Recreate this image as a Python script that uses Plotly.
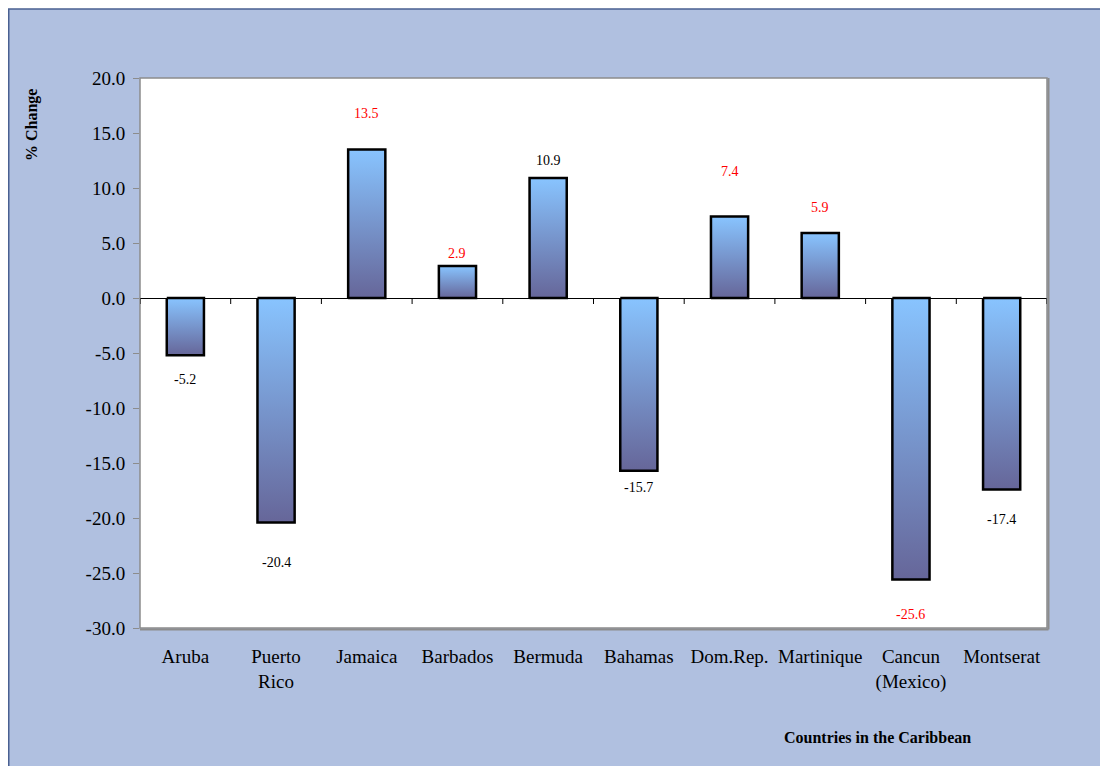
import plotly.graph_objects as go

# ---- data ----
countries = ["Aruba", "Puerto<br>Rico", "Jamaica", "Barbados", "Bermuda",
             "Bahamas", "Dom.Rep.", "Martinique", "Cancun<br>(Mexico)", "Montserat"]
pct_change = [-5.2, -20.4, 13.5, 2.9, 10.9, -15.7, 7.4, 5.9, -25.6, -17.4]
y_tick_values = [20, 15, 10, 5, 0, -5, -10, -15, -20, -25, -30]
y_tick_labels = ["20.0", "15.0", "10.0", "5.0", "0.0", "-5.0", "-10.0",
                 "-15.0", "-20.0", "-25.0", "-30.0"]

# ---- style ----
label_colors = ["black", "black", "red", "red", "black",
                "black", "red", "red", "red", "black"]
label_shift_px = [24, 40, 36, 13, 18, 17, 45, 26, 35, 30]

BG = "#B0C0E0"
LIGHT = "#88C4FF"
DARK = "#666699"
SERIF = "Liberation Serif, Times New Roman, serif"
HALF_W = 0.205

# page has 8px body margin; figure coords = page coords - 8
OFF = 8
W, H = 1100, 758
L, T = 132, 70
PW, PH = 907, 550
R, B = W - L - PW, H - T - PH


def px_x(p):
    return (p - OFF - L) / PW


def px_y(p):
    return (T + PH - (p - OFF)) / PH


fig = go.Figure()

idx = list(range(len(countries)))
for i, v in zip(idx, pct_change):
    fig.add_trace(go.Scatter(
        x=[i - HALF_W, i + HALF_W, i + HALF_W, i - HALF_W, i - HALF_W],
        y=[0, 0, v, v, 0],
        mode="lines",
        fill="toself",
        fillgradient=dict(type="vertical",
                          colorscale=[[0, DARK], [1, LIGHT]]),
        line=dict(color="black", width=2.5),
        hoverinfo="skip",
        showlegend=False,
    ))
    fig.add_annotation(
        x=i, y=v, xref="x", yref="y",
        text=f"{v:.1f}", showarrow=False,
        yshift=label_shift_px[i] if v >= 0 else -label_shift_px[i],
        font=dict(family=SERIF, size=14, color=label_colors[i]),
    )

shapes = []
# outer chart area background with top/left border
shapes.append(dict(type="rect", xref="paper", yref="paper", layer="below",
                   x0=(0.75 - L) / PW, x1=1.3, y0=-0.5, y1=(T + PH - 1) / PH,
                   fillcolor=BG, line=dict(color="#4A6091", width=1.5)))
# white plot area
shapes.append(dict(type="rect", xref="paper", yref="paper", layer="below",
                   x0=0, x1=1, y0=0, y1=1,
                   fillcolor="white", line=dict(width=0)))
# plot-area frame
shapes.append(dict(type="rect", xref="paper", yref="paper",
                   x0=0, x1=1, y0=0, y1=1,
                   line=dict(color="#8C8C8C", width=1.5)))
# shadow on right/bottom
shapes.append(dict(type="line", xref="paper", yref="paper",
                   x0=1 + 1.5 / PW, x1=1 + 1.5 / PW, y0=-1.5 / PH, y1=1,
                   line=dict(color="#8C8C8C", width=2)))
shapes.append(dict(type="line", xref="paper", yref="paper",
                   x0=0, x1=1 + 1.5 / PW, y0=-1.5 / PH, y1=-1.5 / PH,
                   line=dict(color="#8C8C8C", width=2)))
# category tick marks on the zero line
for k in range(len(countries) + 1):
    xb = k - 0.5
    shapes.append(dict(type="line", xref="x", yref="y", ysizemode="pixel",
                       yanchor=0, x0=xb, x1=xb, y0=0, y1=-6,
                       line=dict(color="black", width=1)))

fig.update_layout(
    width=W, height=H,
    margin=dict(l=L, r=R, t=T, b=B),
    paper_bgcolor="white",
    plot_bgcolor="rgba(0,0,0,0)",
    shapes=shapes,
    showlegend=False,
    font=dict(family=SERIF, color="black"),
)

fig.update_xaxes(
    range=[-0.5, len(countries) - 0.5],
    tickmode="array", tickvals=idx, ticktext=countries,
    ticks="", showgrid=False, zeroline=False, showline=False,
    tickfont=dict(family=SERIF, size=19, color="black"),
    ticklabelstandoff=15,
    fixedrange=True,
)
fig.update_yaxes(
    range=[-30, 20],
    tickmode="array", tickvals=y_tick_values, ticktext=y_tick_labels,
    ticks="outside", ticklen=6, tickcolor="#8C8C8C",
    showgrid=False, showline=False,
    zeroline=True, zerolinecolor="black", zerolinewidth=1,
    tickfont=dict(family=SERIF, size=19, color="black"),
    ticklabelstandoff=4,
    fixedrange=True,
)

fig.add_annotation(text="<b>% Change</b>", xref="paper", yref="paper",
                   x=px_x(32), y=px_y(125), xanchor="center", yanchor="middle",
                   textangle=-90, showarrow=False,
                   font=dict(family=SERIF, size=16, color="black"))
fig.add_annotation(text="<b>Countries in the Caribbean</b>", xref="paper", yref="paper",
                   x=px_x(877), y=px_y(737), xanchor="center", yanchor="middle",
                   showarrow=False,
                   font=dict(family=SERIF, size=16, color="black"))

fig.write_html("out.html")
